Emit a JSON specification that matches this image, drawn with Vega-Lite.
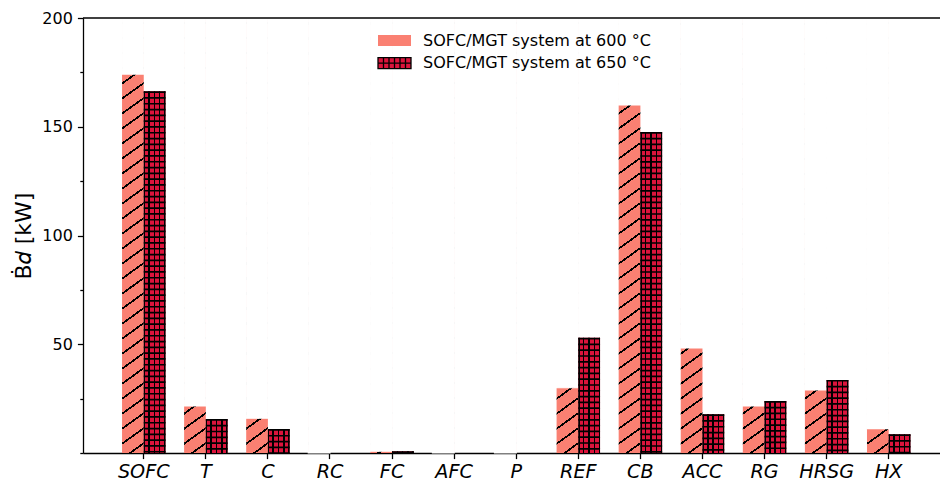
{
  "$schema": "https://vega.github.io/schema/vega-lite/v6.json",
  "width": 857,
  "height": 435,
  "autosize": {"type": "none"},
  "padding": {"left": 83, "top": 18, "right": 0, "bottom": 28},
  "background": "white",
  "config": {
    "font": "DejaVu Sans",
    "view": {"stroke": null},
    "axis": {"grid": false, "domainColor": "black", "domainWidth": 1.28, "tickColor": "black", "tickWidth": 1.28, "labelColor": "black", "titleColor": "black", "zindex": 1}
  },
  "data": {
    "values": [
      {"comp": "SOFC", "sys": "SOFC/MGT system at 600 °C", "val": 174.2},
      {"comp": "SOFC", "sys": "SOFC/MGT system at 650 °C", "val": 166.3},
      {"comp": "T", "sys": "SOFC/MGT system at 600 °C", "val": 21.6},
      {"comp": "T", "sys": "SOFC/MGT system at 650 °C", "val": 15.6},
      {"comp": "C", "sys": "SOFC/MGT system at 600 °C", "val": 16.0},
      {"comp": "C", "sys": "SOFC/MGT system at 650 °C", "val": 11.0},
      {"comp": "RC", "sys": "SOFC/MGT system at 600 °C", "val": 0},
      {"comp": "RC", "sys": "SOFC/MGT system at 650 °C", "val": 0},
      {"comp": "FC", "sys": "SOFC/MGT system at 600 °C", "val": 0.8},
      {"comp": "FC", "sys": "SOFC/MGT system at 650 °C", "val": 0.8},
      {"comp": "AFC", "sys": "SOFC/MGT system at 600 °C", "val": 0},
      {"comp": "AFC", "sys": "SOFC/MGT system at 650 °C", "val": 0},
      {"comp": "P", "sys": "SOFC/MGT system at 600 °C", "val": 0},
      {"comp": "P", "sys": "SOFC/MGT system at 650 °C", "val": 0},
      {"comp": "REF", "sys": "SOFC/MGT system at 600 °C", "val": 30.0},
      {"comp": "REF", "sys": "SOFC/MGT system at 650 °C", "val": 53.0},
      {"comp": "CB", "sys": "SOFC/MGT system at 600 °C", "val": 160.0},
      {"comp": "CB", "sys": "SOFC/MGT system at 650 °C", "val": 147.6},
      {"comp": "ACC", "sys": "SOFC/MGT system at 600 °C", "val": 48.3},
      {"comp": "ACC", "sys": "SOFC/MGT system at 650 °C", "val": 17.8},
      {"comp": "RG", "sys": "SOFC/MGT system at 600 °C", "val": 21.6},
      {"comp": "RG", "sys": "SOFC/MGT system at 650 °C", "val": 23.9},
      {"comp": "HRSG", "sys": "SOFC/MGT system at 600 °C", "val": 29.0},
      {"comp": "HRSG", "sys": "SOFC/MGT system at 650 °C", "val": 33.6},
      {"comp": "HX", "sys": "SOFC/MGT system at 600 °C", "val": 11.2},
      {"comp": "HX", "sys": "SOFC/MGT system at 650 °C", "val": 8.6}
    ]
  },
  "layer": [
    {
      "transform": [{"filter": "datum.sys === 'SOFC/MGT system at 600 °C'"}],
      "mark": {"type": "bar", "fill": {"gradient": "linear", "x1": 0, "y1": 0, "x2": 0.03716, "y2": 1.0345, "stops": [
        {"offset": 0, "color": "#fa8072"},
        {"offset": 0.01, "color": "#fa8072"}, {"offset": 0.01, "color": "#000"}, {"offset": 0.0148, "color": "#000"}, {"offset": 0.0148, "color": "#fa8072"},
        {"offset": 0.0433, "color": "#fa8072"}, {"offset": 0.0433, "color": "#000"}, {"offset": 0.0481, "color": "#000"}, {"offset": 0.0481, "color": "#fa8072"},
        {"offset": 0.0766, "color": "#fa8072"}, {"offset": 0.0766, "color": "#000"}, {"offset": 0.0814, "color": "#000"}, {"offset": 0.0814, "color": "#fa8072"},
        {"offset": 0.1099, "color": "#fa8072"}, {"offset": 0.1099, "color": "#000"}, {"offset": 0.1147, "color": "#000"}, {"offset": 0.1147, "color": "#fa8072"},
        {"offset": 0.1432, "color": "#fa8072"}, {"offset": 0.1432, "color": "#000"}, {"offset": 0.148, "color": "#000"}, {"offset": 0.148, "color": "#fa8072"},
        {"offset": 0.1765, "color": "#fa8072"}, {"offset": 0.1765, "color": "#000"}, {"offset": 0.1813, "color": "#000"}, {"offset": 0.1813, "color": "#fa8072"},
        {"offset": 0.2098, "color": "#fa8072"}, {"offset": 0.2098, "color": "#000"}, {"offset": 0.2146, "color": "#000"}, {"offset": 0.2146, "color": "#fa8072"},
        {"offset": 0.2431, "color": "#fa8072"}, {"offset": 0.2431, "color": "#000"}, {"offset": 0.2479, "color": "#000"}, {"offset": 0.2479, "color": "#fa8072"},
        {"offset": 0.2764, "color": "#fa8072"}, {"offset": 0.2764, "color": "#000"}, {"offset": 0.2812, "color": "#000"}, {"offset": 0.2812, "color": "#fa8072"},
        {"offset": 0.3097, "color": "#fa8072"}, {"offset": 0.3097, "color": "#000"}, {"offset": 0.3145, "color": "#000"}, {"offset": 0.3145, "color": "#fa8072"},
        {"offset": 0.343, "color": "#fa8072"}, {"offset": 0.343, "color": "#000"}, {"offset": 0.3478, "color": "#000"}, {"offset": 0.3478, "color": "#fa8072"},
        {"offset": 0.3763, "color": "#fa8072"}, {"offset": 0.3763, "color": "#000"}, {"offset": 0.3811, "color": "#000"}, {"offset": 0.3811, "color": "#fa8072"},
        {"offset": 0.4096, "color": "#fa8072"}, {"offset": 0.4096, "color": "#000"}, {"offset": 0.4144, "color": "#000"}, {"offset": 0.4144, "color": "#fa8072"},
        {"offset": 0.4429, "color": "#fa8072"}, {"offset": 0.4429, "color": "#000"}, {"offset": 0.4477, "color": "#000"}, {"offset": 0.4477, "color": "#fa8072"},
        {"offset": 0.4762, "color": "#fa8072"}, {"offset": 0.4762, "color": "#000"}, {"offset": 0.481, "color": "#000"}, {"offset": 0.481, "color": "#fa8072"},
        {"offset": 0.5095, "color": "#fa8072"}, {"offset": 0.5095, "color": "#000"}, {"offset": 0.5143, "color": "#000"}, {"offset": 0.5143, "color": "#fa8072"},
        {"offset": 0.5428, "color": "#fa8072"}, {"offset": 0.5428, "color": "#000"}, {"offset": 0.5476, "color": "#000"}, {"offset": 0.5476, "color": "#fa8072"},
        {"offset": 0.5761, "color": "#fa8072"}, {"offset": 0.5761, "color": "#000"}, {"offset": 0.5809, "color": "#000"}, {"offset": 0.5809, "color": "#fa8072"},
        {"offset": 0.6094, "color": "#fa8072"}, {"offset": 0.6094, "color": "#000"}, {"offset": 0.6142, "color": "#000"}, {"offset": 0.6142, "color": "#fa8072"},
        {"offset": 0.6427, "color": "#fa8072"}, {"offset": 0.6427, "color": "#000"}, {"offset": 0.6475, "color": "#000"}, {"offset": 0.6475, "color": "#fa8072"},
        {"offset": 0.676, "color": "#fa8072"}, {"offset": 0.676, "color": "#000"}, {"offset": 0.6808, "color": "#000"}, {"offset": 0.6808, "color": "#fa8072"},
        {"offset": 0.7093, "color": "#fa8072"}, {"offset": 0.7093, "color": "#000"}, {"offset": 0.7141, "color": "#000"}, {"offset": 0.7141, "color": "#fa8072"},
        {"offset": 0.7426, "color": "#fa8072"}, {"offset": 0.7426, "color": "#000"}, {"offset": 0.7474, "color": "#000"}, {"offset": 0.7474, "color": "#fa8072"},
        {"offset": 0.7759, "color": "#fa8072"}, {"offset": 0.7759, "color": "#000"}, {"offset": 0.7807, "color": "#000"}, {"offset": 0.7807, "color": "#fa8072"},
        {"offset": 0.8092, "color": "#fa8072"}, {"offset": 0.8092, "color": "#000"}, {"offset": 0.814, "color": "#000"}, {"offset": 0.814, "color": "#fa8072"},
        {"offset": 0.8425, "color": "#fa8072"}, {"offset": 0.8425, "color": "#000"}, {"offset": 0.8473, "color": "#000"}, {"offset": 0.8473, "color": "#fa8072"},
        {"offset": 0.8758, "color": "#fa8072"}, {"offset": 0.8758, "color": "#000"}, {"offset": 0.8806, "color": "#000"}, {"offset": 0.8806, "color": "#fa8072"},
        {"offset": 0.9091, "color": "#fa8072"}, {"offset": 0.9091, "color": "#000"}, {"offset": 0.9139, "color": "#000"}, {"offset": 0.9139, "color": "#fa8072"},
        {"offset": 0.9424, "color": "#fa8072"}, {"offset": 0.9424, "color": "#000"}, {"offset": 0.9472, "color": "#000"}, {"offset": 0.9472, "color": "#fa8072"},
        {"offset": 0.9757, "color": "#fa8072"}, {"offset": 0.9757, "color": "#000"}, {"offset": 0.9805, "color": "#000"}, {"offset": 0.9805, "color": "#fa8072"},
        {"offset": 1, "color": "#fa8072"}
      ]}},
      "encoding": {
        "x": {"field": "comp", "type": "nominal", "scale": {"type": "band", "domain": ["SOFC", "T", "C", "RC", "FC", "AFC", "P", "REF", "CB", "ACC", "RG", "HRSG", "HX"], "paddingInner": 0.3, "paddingOuter": 0.5525, "align": 0.569},
          "axis": {"title": null, "labelAngle": 0, "labelFont": "DejaVu Sans", "labelFontStyle": "italic", "labelFontSize": 19.2, "tickSize": 5.6, "labelPadding": 4}},
        "xOffset": {"field": "sys", "type": "nominal", "scale": {"domain": ["SOFC/MGT system at 600 °C", "SOFC/MGT system at 650 °C"], "paddingInner": 0, "paddingOuter": 0}},
        "y": {"datum": 200, "type": "quantitative", "scale": {"domain": [0, 200], "nice": false},
          "axis": {"title": "Ḃ𝑑 [kW]", "titleFontSize": 22, "titleFontWeight": "normal", "titlePadding": 6,
            "values": [0, 25, 50, 75, 100, 125, 150, 175, 200],
            "labelExpr": "datum.value % 50 === 0 && datum.value > 0 ? datum.label : ''",
            "labelFontSize": 16, "labelPadding": 5,
            "tickSize": {"condition": {"test": "datum.value % 50 === 0 && datum.value > 0", "value": 5.6}, "value": 3.2}}},
        "y2": {"datum": 0}
      }
    },
    {
      "transform": [{"filter": "datum.sys === 'SOFC/MGT system at 600 °C'"}],
      "mark": {"type": "bar", "fill": "white", "stroke": "white", "strokeWidth": 1.2},
      "encoding": {
        "x": {"field": "comp", "type": "nominal"},
        "xOffset": {"field": "sys", "type": "nominal"},
        "y": {"field": "val", "type": "quantitative", "title": "Ḃ𝑑 [kW]"},
        "y2": {"datum": 200}
      }
    },
    {
      "transform": [{"filter": "datum.sys === 'SOFC/MGT system at 650 °C'"}],
      "mark": {"type": "bar"},
      "encoding": {
        "x": {"field": "comp", "type": "nominal"},
        "xOffset": {"field": "sys", "type": "nominal"},
        "y": {"field": "val", "type": "quantitative", "title": "Ḃ𝑑 [kW]"},
        "color": {"field": "sys", "type": "nominal",
          "scale": {"domain": ["SOFC/MGT system at 600 °C", "SOFC/MGT system at 650 °C"], "range": ["#fa8072", "#dc143c"]},
          "legend": {"title": null, "orient": "none", "legendX": 299.5, "legendY": 10.5, "padding": 0, "rowPadding": 1.7,
            "labelFont": "DejaVu Sans", "labelFontSize": 16, "labelColor": "black", "labelOffset": 16.5, "labelLimit": 400,
            "symbolSize": 484, "symbolOpacity": 1,
            "encode": {"symbols": {"update": {
              "shape": [
                {"test": "datum.value === 'SOFC/MGT system at 600 °C'", "value": "M-1.5,-0.5H1.5V0.5H-1.5Z"},
                {"value": "M-1.5,-0.5H1.5V0.5H-1.5Z M-1,-0.5V0.5 M-0.5,-0.5V0.5 M0,-0.5V0.5 M0.5,-0.5V0.5 M1,-0.5V0.5 M-1.5,0H1.5"}
              ],
              "stroke": [
                {"test": "datum.value === 'SOFC/MGT system at 600 °C'", "value": "transparent"},
                {"value": "black"}
              ],
              "strokeWidth": {"value": 1.3},
              "size": {"value": 484}
            }}}}
        }
      }
    },
    {
      "transform": [{"filter": "datum.sys === 'SOFC/MGT system at 650 °C'"}],
      "mark": {"type": "bar", "fill": {"gradient": "linear", "x1": 0, "y1": 0, "x2": 1, "y2": 0, "stops": [
        {"offset": 0, "color": "#000"}, {"offset": 0.06, "color": "#000"}, {"offset": 0.06, "color": "rgba(0,0,0,0)"},
        {"offset": 0.21, "color": "rgba(0,0,0,0)"}, {"offset": 0.21, "color": "#000"}, {"offset": 0.28, "color": "#000"}, {"offset": 0.28, "color": "rgba(0,0,0,0)"},
        {"offset": 0.455, "color": "rgba(0,0,0,0)"}, {"offset": 0.455, "color": "#000"}, {"offset": 0.525, "color": "#000"}, {"offset": 0.525, "color": "rgba(0,0,0,0)"},
        {"offset": 0.70, "color": "rgba(0,0,0,0)"}, {"offset": 0.70, "color": "#000"}, {"offset": 0.77, "color": "#000"}, {"offset": 0.77, "color": "rgba(0,0,0,0)"},
        {"offset": 0.94, "color": "rgba(0,0,0,0)"}, {"offset": 0.94, "color": "#000"}, {"offset": 1, "color": "#000"}
      ]}},
      "encoding": {
        "x": {"field": "comp", "type": "nominal"},
        "xOffset": {"field": "sys", "type": "nominal"},
        "y": {"field": "val", "type": "quantitative", "title": "Ḃ𝑑 [kW]"}
      }
    },
    {
      "transform": [{"filter": "datum.sys === 'SOFC/MGT system at 650 °C'"}],
      "mark": {"type": "rule", "color": "black", "strokeWidth": 21.73, "strokeDash": [1.7, 4.1], "strokeCap": "butt"},
      "encoding": {
        "x": {"field": "comp", "type": "nominal", "bandPosition": 0.75},
        "y": {"field": "val", "type": "quantitative", "title": "Ḃ𝑑 [kW]"},
        "y2": {"datum": 0}
      }
    },
    {
      "transform": [{"filter": "datum.sys === 'SOFC/MGT system at 600 °C' && datum.comp === 'SOFC'"}],
      "mark": {"type": "rule", "color": "black", "strokeWidth": 1.28},
      "encoding": {
        "y": {"datum": 200, "type": "quantitative"}
      }
    }
  ]
}
